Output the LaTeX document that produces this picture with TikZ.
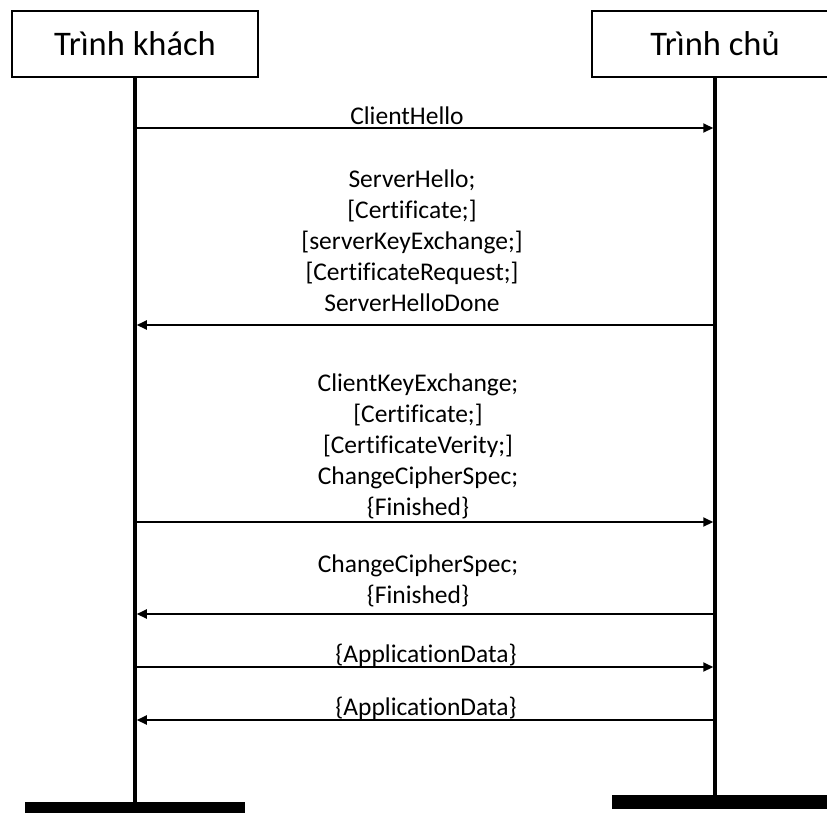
\documentclass[tikz,border=0pt]{standalone}
\usepackage{fontspec}
\setmainfont[Ligatures=NoCommon]{Carlito}
\usetikzlibrary{arrows.meta}
% fixed first-line height so that a label's top sits a known distance above its first baseline
\newcommand{\firstline}{\rule{0pt}{22pt}}
\begin{document}
\begin{tikzpicture}[x=1pt,y=-1pt,
  actor/.style={draw, line width=2pt, minimum width=246pt, minimum height=66pt,
    inner sep=0pt, font=\fontsize{34.5}{40}\selectfont},
  lifeline/.style={line width=3.5pt},
  msg/.style={line width=2pt, shorten >=1.75pt, shorten <=1.75pt,
    -{Triangle[length=10pt,width=9pt]}},
  lbl/.style={align=center, inner sep=0pt, anchor=north,
    font=\fontsize{25.5}{31}\selectfont},
  endbar/.style={fill=black, draw=none, inner sep=0pt, minimum width=220pt,
    minimum height=14pt, anchor=north}]
\useasboundingbox (0,0) rectangle (827,812);
\clip (0,0) rectangle (827,812);

% participants
\node[actor] (client) at (135,44) {Trình khách};
\node[actor] (server) at (715,44) {Trình chủ};

% end-of-life bars
\node[endbar] (cbar) at (135,802) {};
\node[endbar] (sbar) at (722,795) {};

% message labels (y = first baseline - 22)
\node[lbl] (l1) at (407,102) {\firstline ClientHello};
\node[lbl] (l2) at (412,165) {\firstline ServerHello;\\ {[Certificate;]}\\ {[serverKeyExchange;]}\\ {[CertificateRequest;]}\\ ServerHelloDone};
\node[lbl] (l3) at (418,369) {\firstline ClientKeyExchange;\\ {[Certificate;]}\\ {[CertificateVerity;]}\\ ChangeCipherSpec;\\ \{Finished\}};
\node[lbl] (l4) at (418,550) {\firstline ChangeCipherSpec;\\ \{Finished\}};
\node[lbl] (l5) at (426,640) {\firstline\{ApplicationData\}};
\node[lbl] (l6) at (426,693) {\firstline\{ApplicationData\}};

% messages
\draw[msg] (client.south |- 0,128) -- (server.south |- 0,128);
\draw[msg] (server.south |- 0,325) -- (client.south |- 0,325);
\draw[msg] (client.south |- 0,522) -- (server.south |- 0,522);
\draw[msg] (server.south |- 0,614) -- (client.south |- 0,614);
\draw[msg] (client.south |- 0,667) -- (server.south |- 0,667);
\draw[msg] (server.south |- 0,720) -- (client.south |- 0,720);

% lifelines
\draw[lifeline] (client.south) -- (client.south |- cbar.north);
\draw[lifeline] (server.south) -- (server.south |- sbar.north);
\end{tikzpicture}
\end{document}
